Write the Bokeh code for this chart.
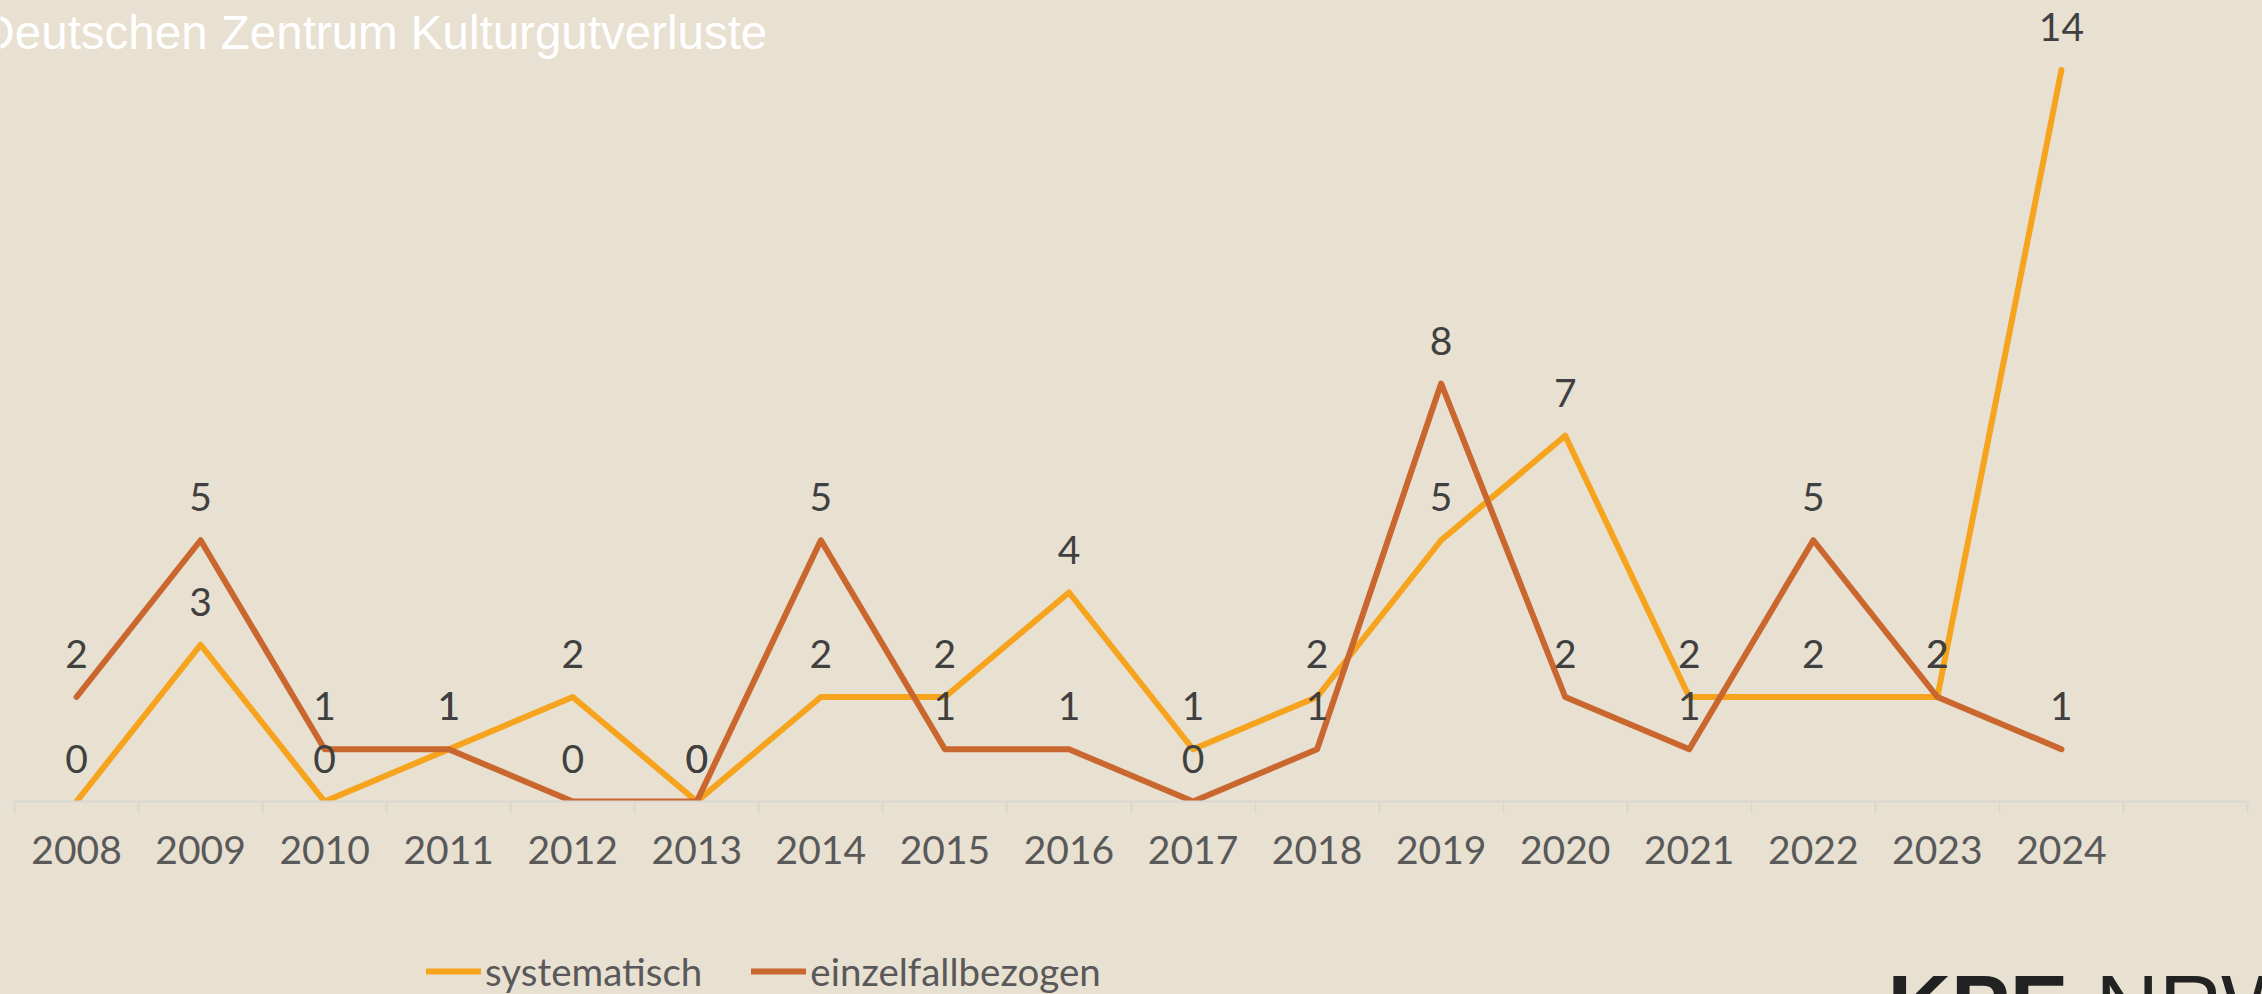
from bokeh.plotting import figure
from bokeh.layouts import column
from bokeh.models import Range1d, FixedTicker, Legend, LegendItem, Label, ColumnDataSource
from bokeh.core.properties import value
from bokeh.embed import file_html
from bokeh.resources import INLINE

# ---- data ----
years = ["2008", "2009", "2010", "2011", "2012", "2013", "2014", "2015", "2016",
         "2017", "2018", "2019", "2020", "2021", "2022", "2023", "2024"]
systematisch = [0, 3, 0, 1, 2, 0, 2, 2, 4, 1, 2, 5, 7, 2, 2, 2, 14]
einzelfallbezogen = [2, 5, 1, 1, 0, 0, 5, 1, 1, 0, 1, 8, 2, 1, 5, 2, 1]
series_names = ["systematisch", "einzelfallbezogen"]
n_slots = 18  # the axis has one extra, empty category slot at the end
title_text = "Deutschen Zentrum Kulturgutverluste"
logo_bold, logo_light = "KPE", "NRW"

BG = "#E8E0D1"
C_SYS = "#F6A31E"
C_EIN = "#C9672F"
AXIS = "#D9D7D2"
LW = 6

W, H = 2262, 994
TOP_H = 900            # main figure height; the remaining strip holds legend + logo
FRAME_BOTTOM = 801     # y of the category axis
PX_PER_SLOT = (2247 - 14) / n_slots
x_start = -0.5 - 14 / PX_PER_SLOT
x_end = n_slots - 0.5 + 15 / PX_PER_SLOT

p = figure(width=W, height=TOP_H, output_backend="svg", toolbar_location=None,
           x_range=Range1d(x_start, x_end), y_range=Range1d(0, FRAME_BOTTOM / 52.25),
           y_axis_location=None, min_border_left=0, min_border_right=0,
           min_border_top=0, min_border_bottom=TOP_H - FRAME_BOTTOM)
p.background_fill_color = BG
p.border_fill_color = BG
p.outline_line_color = None
p.grid.visible = False

xs = list(range(len(years)))
src_sys = ColumnDataSource(dict(x=xs, y=systematisch, t=[str(v) for v in systematisch]))
src_ein = ColumnDataSource(dict(x=xs, y=einzelfallbezogen, t=[str(v) for v in einzelfallbezogen]))

p.line("x", "y", source=src_sys, line_color=C_SYS, line_width=LW,
       line_cap="round", line_join="round")
p.line("x", "y", source=src_ein, line_color=C_EIN, line_width=LW,
       line_cap="round", line_join="round")

for src in (src_sys, src_ein):
    p.text("x", "y", text="t", source=src, text_font=value("Lato"), text_font_size="39px",
           text_color="#404040", text_align="center", text_baseline="middle", y_offset=-43)

# x axis: labels at category centres, tick marks at the boundaries
ax = p.xaxis[0]
ax.bounds = (-0.5, n_slots - 0.5)
ax.ticker = FixedTicker(ticks=xs, minor_ticks=[i - 0.5 for i in range(n_slots + 1)])
ax.major_label_overrides = {i: y for i, y in enumerate(years)}
ax.axis_line_color = AXIS
ax.axis_line_width = 2
ax.major_tick_line_color = None
ax.major_tick_out = 0
ax.major_tick_in = 0
ax.minor_tick_line_color = AXIS
ax.minor_tick_line_width = 2
ax.minor_tick_out = 12
ax.minor_tick_in = 0
ax.major_label_text_font = "Lato"
ax.major_label_text_font_size = "39px"
ax.major_label_text_color = "#595959"
ax.major_label_standoff = 22

p.add_layout(Label(x=-20, y=FRAME_BOTTOM - 48 + 16, x_units="screen", y_units="screen",
                   text=title_text, text_font="Liberation Sans", text_font_size="47.5px",
                   text_color="white", text_baseline="alphabetic"))

# ---- bottom strip: legend and logo ----
q = figure(width=W, height=H - TOP_H, output_backend="svg", toolbar_location=None,
           x_range=Range1d(x_start, x_end), y_range=Range1d(1000, 1001),
           x_axis_location=None, y_axis_location=None,
           min_border_left=0, min_border_right=0, min_border_top=0, min_border_bottom=0)
q.background_fill_color = BG
q.border_fill_color = BG
q.outline_line_color = None
q.grid.visible = False
k_sys = q.line("x", "y", source=src_sys, line_color=C_SYS, line_width=LW,
               line_cap="round", visible=False)
k_ein = q.line("x", "y", source=src_ein, line_color=C_EIN, line_width=LW,
               line_cap="round", visible=False)

legend = Legend(items=[LegendItem(label=series_names[0], renderers=[k_sys]),
                       LegendItem(label=series_names[1], renderers=[k_ein])],
                orientation="horizontal", location=(426, -1), padding=0, margin=0,
                border_line_color=None, background_fill_alpha=0,
                glyph_width=55, glyph_height=48, label_height=48, label_standoff=4,
                spacing=49, label_text_font="Lato", label_text_font_size="38.5px",
                label_text_color="#595959", click_policy="none")
q.add_layout(legend, "center")

logo_y = -11
q.add_layout(Label(x=1887, y=logo_y, x_units="screen", y_units="screen",
                   text=logo_bold, text_font="Liberation Sans", text_font_style="bold",
                   text_font_size="88px", text_color="#222222", text_baseline="alphabetic"))
q.add_layout(Label(x=2095, y=logo_y, x_units="screen", y_units="screen",
                   text=logo_light, text_font="Liberation Sans", text_font_size="88px",
                   text_color="#222222", text_baseline="alphabetic"))

layout = column(p, q, spacing=0)
layout.styles = {"background-color": BG}
html = file_html(layout, INLINE)
style = "<style>html,body{margin:0;padding:0;background:%s;}</style>" % BG
html = html.replace("</head>", style + "</head>", 1)
open("out.html", "w").write(html)
